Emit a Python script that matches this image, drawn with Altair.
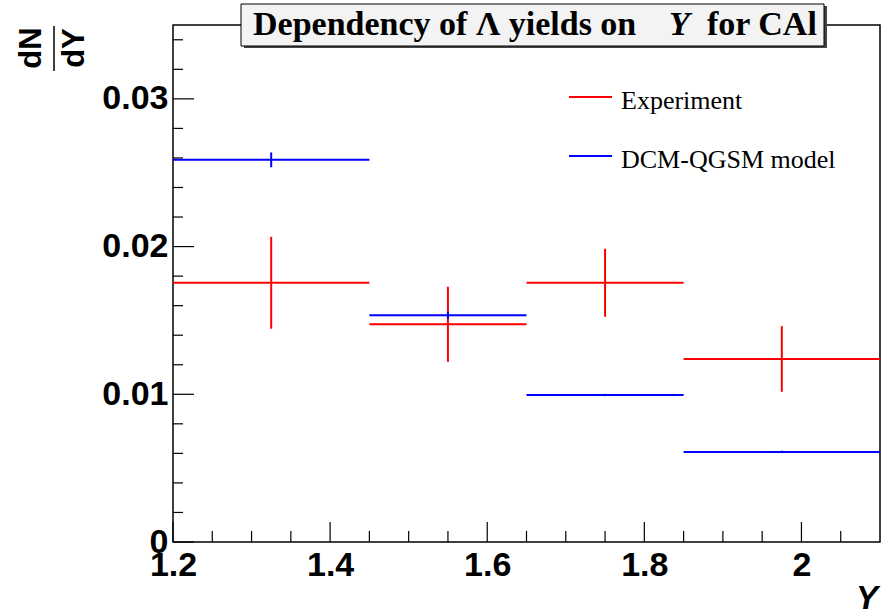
import altair as alt
import pandas as pd

# ---- data ----
bin_lo = [1.2, 1.45, 1.65, 1.85]
bin_hi = [1.45, 1.65, 1.85, 2.1]
exp_val = [0.01755, 0.01474, 0.01755, 0.01239]
exp_err = [0.00311, 0.00254, 0.00230, 0.00222]
mod_val = [0.02587, 0.01535, 0.00995, 0.00610]
mod_err = [0.00050, 0.00025, 0.00008, 0.00008]

x_major = [1.2, 1.4, 1.6, 1.8, 2.0]
x_labels = ["1.2", "1.4", "1.6", "1.8", "2"]
x_minor = [1.25, 1.3, 1.35, 1.45, 1.5, 1.55, 1.65, 1.7, 1.75, 1.85, 1.9, 1.95, 2.05]
y_major = [0.0, 0.01, 0.02, 0.03]
y_labels = ["0", "0.01", "0.02", "0.03"]
y_minor = [0.002, 0.004, 0.006, 0.008, 0.012, 0.014, 0.016, 0.018,
           0.022, 0.024, 0.026, 0.028, 0.032, 0.034]

series_names = ["Experiment", "DCM-QGSM model"]
series_colors = ["#ff0000", "#0000ff"]

W, H = 707, 517

df = pd.DataFrame({
    "lo": bin_lo, "hi": bin_hi,
    "exp": exp_val, "exp_err": exp_err,
    "mod": mod_val, "mod_err": mod_err,
})
df["mid"] = (df["lo"] + df["hi"]) / 2
df["exp_lo"] = df["exp"] - df["exp_err"]
df["exp_hi"] = df["exp"] + df["exp_err"]
df["mod_lo"] = df["mod"] - df["mod_err"]
df["mod_hi"] = df["mod"] + df["mod_err"]

def label_expr(vals, labs):
    parts = [f"abs(datum.value - {v}) < 1e-9 ? '{l}'" for v, l in zip(vals, labs)]
    return " : ".join(parts) + " : ''"

xs = alt.Scale(domain=[1.2, 2.1], nice=False, zero=False)
ys = alt.Scale(domain=[0, 0.035], nice=False, zero=False)

lab = dict(labelFont="Liberation Sans", labelFontWeight="bold", labelFontSize=34,
           labelColor="#000", ticks=False, domain=False, grid=False, title=None)
xaxis = alt.Axis(values=x_major, labelExpr=label_expr(x_major, x_labels),
                 labelPadding=6, labelFlush=False, labelOverlap=False, **lab)
yaxis = alt.Axis(values=y_major, labelExpr=label_expr(y_major, y_labels),
                 labelPadding=5, labelFlush=False, labelOverlap=False, **lab)

base = alt.Chart(df)

exp_h = base.mark_rule(color=series_colors[0], strokeWidth=2).encode(
    x=alt.X("lo:Q", scale=xs, axis=xaxis), x2="hi:Q",
    y=alt.Y("exp:Q", scale=ys, axis=yaxis))
exp_v = base.mark_rule(color=series_colors[0], strokeWidth=2).encode(
    x=alt.X("mid:Q", scale=xs), y=alt.Y("exp_lo:Q", scale=ys), y2="exp_hi:Q")
mod_h = base.mark_rule(color=series_colors[1], strokeWidth=2).encode(
    x=alt.X("lo:Q", scale=xs), x2="hi:Q", y=alt.Y("mod:Q", scale=ys))
mod_v = base.mark_rule(color=series_colors[1], strokeWidth=2).encode(
    x=alt.X("mid:Q", scale=xs), y=alt.Y("mod_lo:Q", scale=ys), y2="mod_hi:Q")

# inward ticks
def xticks(vals, length):
    return alt.Chart(pd.DataFrame({"v": vals})).mark_rule(color="#000", strokeWidth=1.2).encode(
        x=alt.X("v:Q", scale=xs), y=alt.value(H), y2=alt.value(H - length))

def yticks(vals, length):
    return alt.Chart(pd.DataFrame({"v": vals})).mark_rule(color="#000", strokeWidth=1.2).encode(
        y=alt.Y("v:Q", scale=ys), x=alt.value(0), x2=alt.value(length))

one = pd.DataFrame({"a": [0]})

def rect(x1, x2, y1, y2, fill, stroke=None, sw=0):
    kw = dict(fill=fill)
    if stroke:
        kw.update(stroke=stroke, strokeWidth=sw)
    return alt.Chart(one).mark_rect(**kw).encode(
        x=alt.value(x1), x2=alt.value(x2), y=alt.value(y1), y2=alt.value(y2))

def text(s, x, y, size, font, weight="normal", style="normal", align="left",
         baseline="alphabetic", angle=0):
    kw = dict(fontSize=size, font=font, fontWeight=weight, fontStyle=style,
              align=align, baseline=baseline, color="#000")
    if angle:
        kw["angle"] = angle
    return alt.Chart(one).mark_text(**kw).encode(
        x=alt.value(x), y=alt.value(y), text=alt.value(s))

def hline(x1, x2, y, color, sw=2):
    return alt.Chart(one).mark_rule(color=color, strokeWidth=sw).encode(
        x=alt.value(x1), x2=alt.value(x2), y=alt.value(y))

# title box
title_shadow = rect(71, 654, -19, 23, "#444")
title_box = rect(68, 651, -21, 21, "#f3f3f3", "#000", 1)
t1 = text("Dependency of \u039b yields on", 80, 10, 34, "Liberation Serif", weight="bold")
t2 = text("Y", 496, 10, 34, "Liberation Serif", weight="bold", style="italic")
t3 = text("for CAl", 534, 10, 34, "Liberation Serif", weight="bold")

# legend
leg = [
    hline(396, 439, 72, series_colors[0]),
    text(series_names[0], 448, 76, 26, "Liberation Serif", baseline="middle"),
    hline(396, 439, 131, series_colors[1]),
    text(series_names[1], 448, 135, 26, "Liberation Serif", baseline="middle"),
]

# axis titles
ytitle_n = text("dN", -141, 23, 31, "Liberation Sans", weight="bold", align="center",
                baseline="middle", angle=270)
ytitle_d = text("dY", -98, 23, 31, "Liberation Sans", weight="bold", align="center",
                baseline="middle", angle=270)
ytitle_bar = alt.Chart(one).mark_rule(color="#000", strokeWidth=1.5).encode(
    x=alt.value(-119), y=alt.value(1), y2=alt.value(46))
xtitle = text("Y", 705, 584, 33, "Liberation Sans", weight="bold", style="italic",
              align="right")

chart = alt.layer(
    exp_h, exp_v, mod_h, mod_v,
    xticks(x_major, 20), xticks(x_minor, 11),
    yticks(y_major, 21), yticks(y_minor, 10),
    title_shadow, title_box, t1, t2, t3,
    *leg,
    ytitle_n, ytitle_d, ytitle_bar, xtitle,
).properties(
    width=W, height=H,
    autosize=alt.AutoSizeParams(type="none"),
    padding={"left": 173, "top": 25, "right": 7, "bottom": 73},
    background="#ffffff",
).configure_view(stroke="#000", strokeWidth=1.5)

chart.save("out.html", embed_options={"renderer": "svg", "actions": False})
